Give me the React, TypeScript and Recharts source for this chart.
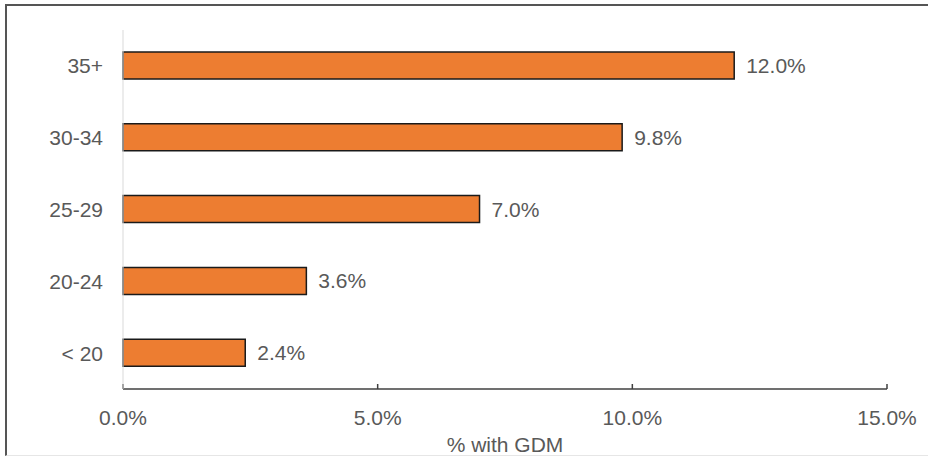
import { Bar, BarChart, LabelList, Label, XAxis, YAxis } from 'recharts'

const ageGroups = ['35+', '30-34', '25-29', '20-24', '< 20']
const gdmPercent = [12.0, 9.8, 7.0, 3.6, 2.4]
const xTicks = [0, 5, 10, 15]

const data = ageGroups.map((age, i) => ({ age, value: gdmPercent[i] }))

const textColor = '#595959'
const font = '"Liberation Sans", Arial, sans-serif'

export default function App() {
  return (
    <div style={{ position: 'absolute', left: 0, top: 0, width: 928, height: 457, background: '#fff', overflow: 'hidden' }}>
      {/* chart frame */}
      <div
        style={{
          position: 'absolute',
          left: 5,
          top: 4,
          width: 940,
          height: 449,
          borderLeft: '2px solid #555',
          borderTop: '2px solid #555',
          borderBottom: '1px solid #e6e6e6',
        }}
      />
      <BarChart
        width={928}
        height={457}
        data={data}
        layout="vertical"
        margin={{ top: 30, right: 41, bottom: 0, left: 0 }}
        barSize={27}
        style={{ position: 'absolute', left: 0, top: 0, fontFamily: font }}
      >
        <XAxis
          type="number"
          domain={[0, 15]}
          ticks={xTicks}
          tickFormatter={(v: number) => v.toFixed(1) + '%'}
          height={68}
          stroke="#404040"
          strokeWidth={1.5}
          tickSize={-5}
          tickMargin={26}
          tick={{ fill: textColor, fontSize: 21 }}
          interval={0}
        >
          <Label value="% with GDM" position="insideBottom" offset={5} fill={textColor} fontSize={21} />
        </XAxis>
        <YAxis
          type="category"
          dataKey="age"
          width={123}
          stroke="#d9d9d9"
          tickLine={false}
          tickSize={0}
          tickMargin={20}
          tick={{ fill: textColor, fontSize: 21 }}
        />
        <Bar dataKey="value" fill="#ED7D31" stroke="#1a1a1a" strokeWidth={1.5} isAnimationActive={false}>
          <LabelList
            dataKey="value"
            position="right"
            offset={12}
            formatter={(v: number) => v.toFixed(1) + '%'}
            fill={textColor}
            fontSize={21}
          />
        </Bar>
      </BarChart>
    </div>
  )
}
